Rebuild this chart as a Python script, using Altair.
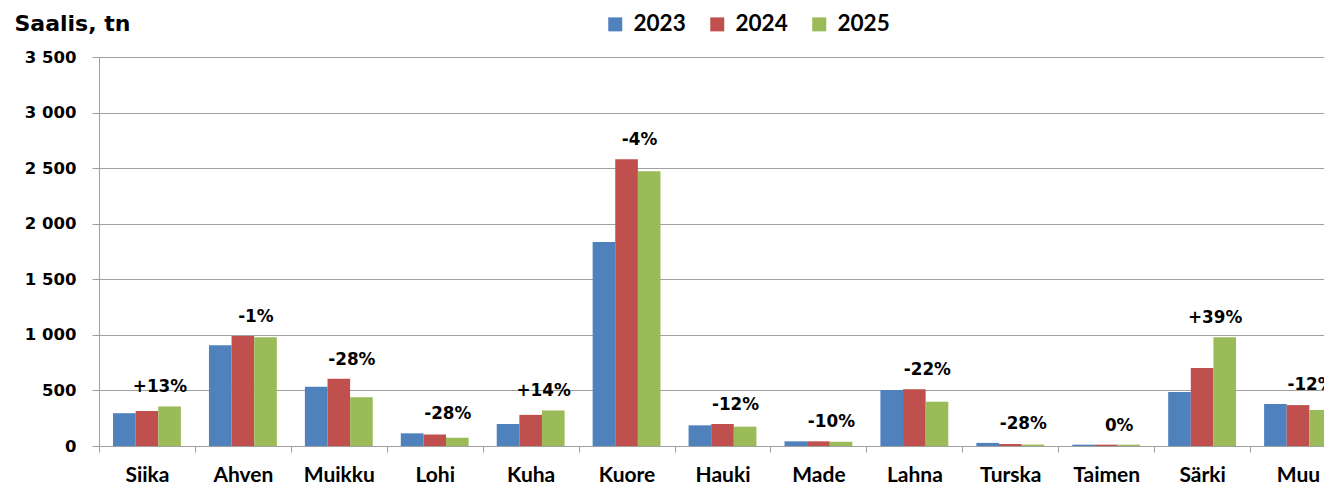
import altair as alt
import pandas as pd

categories = ["Siika", "Ahven", "Muikku", "Lohi", "Kuha", "Kuore", "Hauki",
              "Made", "Lahna", "Turska", "Taimen", "Särki", "Muu"]
years = ["2023", "2024", "2025"]
v2023 = [295, 906, 534, 114, 198, 1836, 186, 42, 504, 28, 12, 486, 378]
v2024 = [315, 990, 606, 104, 280, 2580, 198, 42, 510, 18, 12, 702, 368]
v2025 = [356, 978, 438, 75, 320, 2472, 174, 38, 398, 13, 12, 978, 324]
change_labels = ["+13%", "-1%", "-28%", "-28%", "+14%", "-4%", "-12%",
                 "-10%", "-22%", "-28%", "0%", "+39%", "-12%"]
colors = ["#4F81BD", "#C0504D", "#9BBB59"]
y_ticks = [0, 500, 1000, 1500, 2000, 2500, 3000, 3500]

FONT_N = "Lato"
FONT_W = "DejaVu Sans"
GRID = "#a0a0a0"

rows = []
for i, c in enumerate(categories):
    for yr, vals in zip(years, [v2023, v2024, v2025]):
        rows.append({"cat": c, "year": yr, "value": vals[i]})
df = pd.DataFrame(rows)

lab = pd.DataFrame({
    "cat": categories,
    "label": change_labels,
    "top": [max(a, b, c) for a, b, c in zip(v2023, v2024, v2025)],
})

x_axis = alt.Axis(title=None, labelAngle=0, tickBand="extent", tickSize=6,
                  tickColor=GRID, domainColor=GRID, labelPadding=12,
                  labelFont=FONT_N, labelFontSize=21, labelFontWeight="bold",
                  labelColor="black")
y_axis = alt.Axis(title="Saalis, tn", titleAngle=0, titleAlign="left",
                  titleBaseline="alphabetic", titleX=-85, titleY=-27,
                  titleFont=FONT_W, titleFontSize=22, titleFontWeight="bold",
                  titleColor="black",
                  values=y_ticks, tickSize=7, tickColor=GRID,
                  domainColor=GRID, gridColor=GRID, labelPadding=16,
                  labelFont=FONT_W, labelFontSize=16.5, labelFontWeight="bold",
                  labelColor="black",
                  labelExpr="replace(format(datum.value, ',d'), ',', ' ')")
# full category band extends a little past the visible page edge, as in the reference
x_scale = alt.Scale(paddingInner=0, paddingOuter=0, range=[0, 1247])
y_scale = alt.Scale(domain=[0, 3500], nice=False)

bars = alt.Chart(df).mark_bar().encode(
    x=alt.X("cat:N", sort=categories, scale=x_scale, axis=x_axis),
    xOffset=alt.XOffset("year:N", sort=years,
                        scale=alt.Scale(paddingInner=0, paddingOuter=0.62)),
    y=alt.Y("value:Q", scale=y_scale, axis=y_axis),
    color=alt.Color(
        "year:N", sort=years,
        scale=alt.Scale(domain=years, range=colors),
        legend=alt.Legend(
            title=None, orient="none", legendX=505, legendY=-44,
            direction="horizontal", symbolType="square", symbolSize=196,
            symbolStrokeWidth=0, labelFont=FONT_N, labelFontSize=22.5,
            labelFontWeight="bold", labelColor="black", labelOffset=7,
            columnPadding=20, padding=0,
        ),
    ),
)

text = alt.Chart(lab).mark_text(
    dy=-19, dx=13, fontSize=16.8, fontWeight="bold", font=FONT_W,
    color="black"
).encode(
    x=alt.X("cat:N", sort=categories, scale=x_scale, axis=x_axis),
    y=alt.Y("top:Q", scale=y_scale, axis=y_axis),
    text="label:N",
)

chart = alt.layer(bars, text).properties(
    width=1225,
    height=389,
    autosize=alt.AutoSizeParams(type="none"),
    padding={"left": 91, "top": 49, "right": 0, "bottom": 38},
).configure_view(stroke=None)

chart.save("out.html", embed_options={"renderer": "svg", "actions": False})
